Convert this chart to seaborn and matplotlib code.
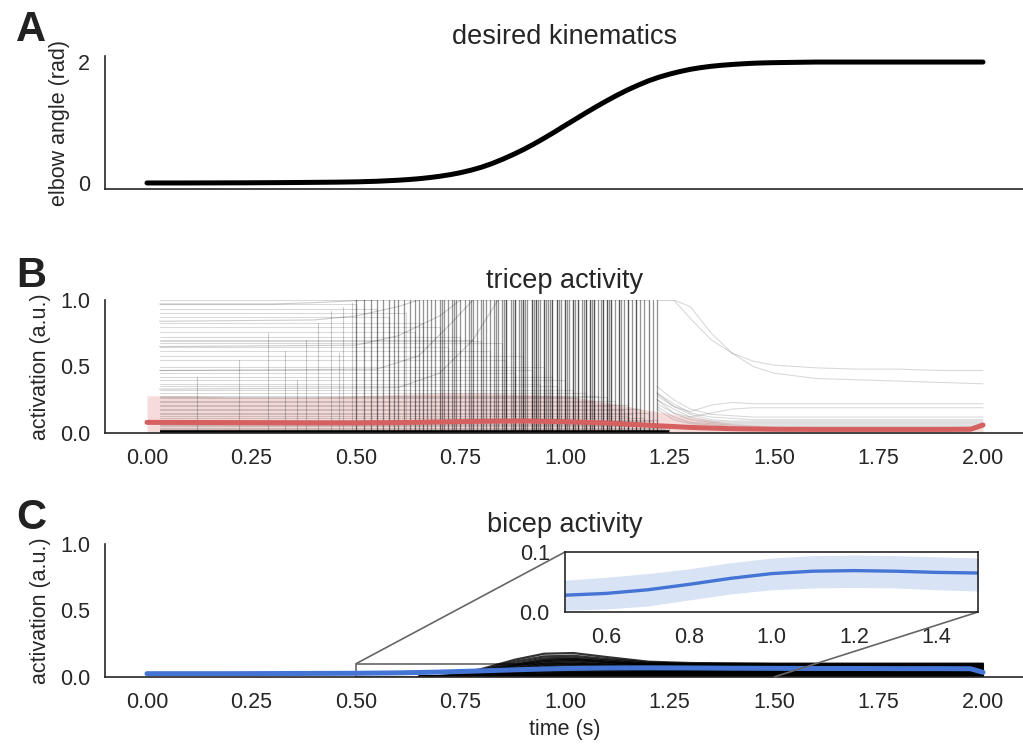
import numpy as np
import pandas as pd
import matplotlib
matplotlib.use("Agg")
import matplotlib.pyplot as plt
import seaborn as sns
from mpl_toolkits.axes_grid1.inset_locator import mark_inset

sns.set_theme(style="white")
plt.rcParams["font.family"] = ["Liberation Sans", "DejaVu Sans"]
TXT = "#262626"

# ---------------- desired kinematics ----------------
kin_t = [0.00, 0.05, 0.10, 0.15, 0.20, 0.25, 0.30, 0.35, 0.40, 0.45, 0.50, 0.55,
         0.600, 0.625, 0.650, 0.675, 0.700, 0.725, 0.750, 0.775, 0.800, 0.825,
         0.850, 0.875, 0.900, 0.925, 0.950, 0.975, 1.000, 1.025, 1.050, 1.075,
         1.100, 1.125, 1.150, 1.175, 1.200, 1.225, 1.250, 1.275, 1.300, 1.325,
         1.350, 1.375, 1.400, 1.425, 1.450, 1.475, 1.500,
         1.55, 1.60, 1.65, 1.70, 1.75, 1.80, 1.85, 1.90, 1.95, 2.00]
kin_angle = [0.000, 0.000, 0.000, 0.001, 0.002, 0.003, 0.005, 0.007, 0.010, 0.013, 0.018, 0.028,
             0.045, 0.056, 0.070, 0.088, 0.110, 0.137, 0.170, 0.211, 0.260, 0.320,
             0.390, 0.467, 0.550, 0.642, 0.740, 0.843, 0.950, 1.055, 1.160, 1.262,
             1.360, 1.453, 1.540, 1.618, 1.690, 1.750, 1.800, 1.843, 1.880, 1.908,
             1.930, 1.947, 1.960, 1.971, 1.980, 1.986, 1.990,
             1.995, 2.000, 2.000, 2.000, 2.000, 2.000, 2.000, 2.000, 2.000, 2.000]

# ---------------- tricep units ----------------
tri_start = 0.03
# sustained level of each unit and the time it switches off
tri_hold_levels = [1.00, 0.97, 0.93, 0.90, 0.87, 0.83, 0.80, 0.76, 0.72, 0.70,
                   0.69, 0.68, 0.65, 0.62, 0.58, 0.55, 0.50, 0.47, 0.45, 0.42,
                   0.40, 0.37, 0.35, 0.32, 0.30, 0.28, 0.27, 0.26, 0.24, 0.23,
                   0.21, 0.20, 0.18, 0.17, 0.15, 0.14, 0.13, 0.11, 0.10, 0.09,
                   0.08, 0.07, 0.06, 0.05, 0.04, 0.03, 0.02, 0.01, 0.00, 0.00,
                   0.00, 0.00, 0.00, 0.00]
tri_hold_ends = [1.20, 0.50, 0.55, 0.62, 0.58, 0.66, 0.70, 0.64, 0.75, 0.78,
                 0.80, 0.85, 0.72, 0.82, 0.90, 0.86, 0.95, 0.92, 0.88, 0.97,
                 1.00, 0.94, 0.98, 1.02, 1.05, 1.08, 1.10, 1.03, 1.12, 1.07,
                 1.15, 1.11, 1.18, 1.14, 1.20, 1.16, 1.15, 1.19, 1.22, 1.21,
                 1.18, 1.23, 1.25, 1.22, 1.25, 1.24, 1.25, 1.25, 1.25, 1.25,
                 1.25, 1.25, 1.25, 1.25]
# early partial bursts (time, peak)
tri_early_times = [0.12, 0.22, 0.29, 0.33, 0.36, 0.38, 0.41, 0.44, 0.46, 0.47, 0.49]
tri_early_peaks = [0.42, 0.55, 0.75, 0.62, 0.40, 0.70, 0.83, 0.92, 0.60, 0.95, 0.98]
# saturating bursts during the movement
tri_burst_times = [0.50, 0.52, 0.535, 0.55, 0.565, 0.58, 0.59, 0.60, 0.615, 0.63,
                   0.64, 0.65, 0.66, 0.67, 0.68, 0.69, 0.70, 0.705, 0.71, 0.72,
                   0.73, 0.735, 0.74, 0.75, 0.76, 0.77, 0.775, 0.78, 0.79, 0.80,
                   0.805, 0.81, 0.82, 0.83, 0.835, 0.84, 0.85, 0.855, 0.86, 0.87,
                   0.875, 0.88, 0.89, 0.895, 0.90, 0.905, 0.91, 0.92, 0.925, 0.93,
                   0.935, 0.94, 0.95, 0.955, 0.96, 0.965, 0.97, 0.98, 0.985, 0.99,
                   1.00, 1.005, 1.01, 1.02, 1.025, 1.03, 1.04, 1.045, 1.05, 1.06,
                   1.065, 1.07, 1.08, 1.085, 1.09, 1.10, 1.105, 1.11, 1.12, 1.13,
                   1.135, 1.14, 1.15, 1.16, 1.17, 1.18, 1.19, 1.20, 1.21, 1.22,
                   0.86, 0.88, 0.90, 0.92, 0.95, 0.98, 1.00, 1.03, 1.05, 1.07,
                   1.09, 1.11, 1.13, 1.15, 1.17, 0.93, 0.97, 1.02, 1.06, 1.10]
# units ramping up to saturation
tri_ramp_t = [[0.03, 0.30, 0.40, 0.50, 0.55],
              [0.03, 0.40, 0.50, 0.60, 0.65],
              [0.03, 0.50, 0.60, 0.70, 0.75],
              [0.03, 0.55, 0.65, 0.72, 0.78],
              [0.03, 0.60, 0.70, 0.78, 0.84]]
tri_ramp_y = [[0.97, 0.97, 0.98, 0.995, 1.00],
              [0.84, 0.85, 0.88, 0.95, 1.00],
              [0.65, 0.66, 0.73, 0.88, 1.00],
              [0.47, 0.48, 0.58, 0.80, 1.00],
              [0.33, 0.34, 0.45, 0.70, 1.00]]
# units still active after the movement
tri_tail_t = [1.22, 1.26, 1.30, 1.35, 1.40, 1.45, 1.50, 1.60, 1.70, 1.80, 1.90, 2.00]
tri_tail_y = [[1.00, 1.00, 0.86, 0.70, 0.60, 0.54, 0.51, 0.49, 0.48, 0.48, 0.47, 0.47],
              [1.00, 1.00, 0.95, 0.75, 0.60, 0.50, 0.45, 0.41, 0.40, 0.39, 0.38, 0.37],
              [0.30, 0.20, 0.16, 0.21, 0.23, 0.22, 0.22, 0.22, 0.22, 0.22, 0.22, 0.22],
              [0.25, 0.15, 0.12, 0.15, 0.18, 0.19, 0.19, 0.19, 0.19, 0.19, 0.19, 0.19],
              [0.35, 0.25, 0.18, 0.14, 0.13, 0.12, 0.12, 0.12, 0.12, 0.12, 0.12, 0.12],
              [0.30, 0.22, 0.15, 0.12, 0.11, 0.10, 0.10, 0.10, 0.10, 0.10, 0.10, 0.10],
              [0.28, 0.20, 0.14, 0.10, 0.09, 0.09, 0.09, 0.09, 0.09, 0.09, 0.09, 0.09],
              [0.25, 0.18, 0.12, 0.09, 0.08, 0.08, 0.08, 0.08, 0.08, 0.08, 0.08, 0.08],
              [0.22, 0.15, 0.10, 0.08, 0.07, 0.07, 0.07, 0.07, 0.07, 0.07, 0.07, 0.07],
              [0.20, 0.12, 0.08, 0.07, 0.06, 0.06, 0.06, 0.06, 0.06, 0.06, 0.06, 0.06],
              [0.18, 0.10, 0.07, 0.06, 0.05, 0.05, 0.05, 0.05, 0.05, 0.05, 0.05, 0.05]]

tri_mean_t = [0.0, 0.1, 0.2, 0.3, 0.4, 0.5, 0.6, 0.7, 0.8, 0.9, 1.0,
              1.1, 1.2, 1.3, 1.4, 1.5, 1.6, 1.7, 1.8, 1.9, 1.97, 2.0]
tri_mean = [0.080, 0.079, 0.078, 0.077, 0.076, 0.076, 0.078, 0.083, 0.088, 0.090, 0.085,
            0.075, 0.058, 0.042, 0.032, 0.028, 0.027, 0.027, 0.027, 0.027, 0.028, 0.060]
tri_hi = [0.28, 0.28, 0.27, 0.27, 0.27, 0.28, 0.29, 0.30, 0.30, 0.29, 0.28,
          0.23, 0.17, 0.12, 0.07, 0.05, 0.05, 0.05, 0.05, 0.05, 0.05, 0.06]
tri_lo = [0.0] * len(tri_mean_t)

# ---------------- bicep units ----------------
bic_t = [0.65, 0.72, 0.80, 0.88, 0.95, 1.02, 1.10, 1.20, 1.30, 1.50, 1.75, 2.00]
bic_traces = [
    [0.00, 0.010, 0.060, 0.130, 0.175, 0.180, 0.150, 0.115, 0.105, 0.100, 0.100, 0.100],
    [0.00, 0.010, 0.050, 0.115, 0.155, 0.160, 0.135, 0.108, 0.100, 0.098, 0.098, 0.098],
    [0.00, 0.010, 0.045, 0.100, 0.140, 0.145, 0.125, 0.100, 0.094, 0.093, 0.093, 0.093],
    [0.00, 0.008, 0.040, 0.090, 0.128, 0.135, 0.115, 0.095, 0.090, 0.089, 0.089, 0.089],
    [0.00, 0.008, 0.035, 0.085, 0.120, 0.130, 0.112, 0.092, 0.086, 0.085, 0.085, 0.085],
    [0.00, 0.006, 0.030, 0.075, 0.110, 0.120, 0.102, 0.085, 0.080, 0.080, 0.080, 0.080],
    [0.00, 0.005, 0.028, 0.065, 0.100, 0.110, 0.092, 0.078, 0.075, 0.075, 0.075, 0.075],
    [0.00, 0.004, 0.022, 0.058, 0.090, 0.100, 0.085, 0.072, 0.070, 0.070, 0.070, 0.070],
    [0.00, 0.003, 0.020, 0.050, 0.080, 0.090, 0.080, 0.067, 0.065, 0.065, 0.065, 0.065],
    [0.00, 0.002, 0.017, 0.042, 0.070, 0.080, 0.070, 0.062, 0.060, 0.060, 0.060, 0.060],
    [0.00, 0.002, 0.012, 0.038, 0.060, 0.070, 0.065, 0.057, 0.055, 0.055, 0.055, 0.055],
    [0.00, 0.001, 0.010, 0.030, 0.050, 0.060, 0.055, 0.050, 0.050, 0.050, 0.050, 0.050],
    [0.00, 0.001, 0.010, 0.028, 0.045, 0.050, 0.050, 0.046, 0.045, 0.045, 0.045, 0.045],
    [0.00, 0.000, 0.008, 0.020, 0.035, 0.040, 0.040, 0.040, 0.040, 0.040, 0.040, 0.040],
    [0.00, 0.000, 0.006, 0.018, 0.030, 0.035, 0.035, 0.035, 0.035, 0.035, 0.035, 0.035],
    [0.00, 0.000, 0.004, 0.010, 0.020, 0.030, 0.030, 0.030, 0.030, 0.030, 0.030, 0.030],
    [0.00, 0.000, 0.002, 0.008, 0.015, 0.025, 0.025, 0.025, 0.025, 0.025, 0.025, 0.025],
    [0.00, 0.000, 0.002, 0.006, 0.012, 0.020, 0.020, 0.020, 0.020, 0.020, 0.020, 0.020],
    [0.00, 0.000, 0.001, 0.005, 0.010, 0.015, 0.015, 0.015, 0.015, 0.015, 0.015, 0.015],
    [0.00, 0.000, 0.001, 0.004, 0.008, 0.010, 0.010, 0.010, 0.010, 0.010, 0.010, 0.010],
    [0.00, 0.000, 0.000, 0.002, 0.005, 0.006, 0.006, 0.006, 0.006, 0.006, 0.006, 0.006],
    [0.00, 0.000, 0.000, 0.001, 0.002, 0.003, 0.003, 0.003, 0.003, 0.003, 0.003, 0.003],
]

bic_mean_t = [0.0, 0.1, 0.2, 0.3, 0.4, 0.5, 0.6, 0.7, 0.8, 0.9, 1.0,
              1.1, 1.2, 1.3, 1.4, 1.5, 1.6, 1.7, 1.8, 1.9, 1.97, 2.0]
bic_mean = [0.025, 0.025, 0.025, 0.026, 0.027, 0.028, 0.031, 0.037, 0.046, 0.056, 0.064,
            0.068, 0.069, 0.068, 0.066, 0.065, 0.064, 0.064, 0.063, 0.063, 0.062, 0.035]
bic_hi = [0.050, 0.050, 0.050, 0.051, 0.052, 0.053, 0.058, 0.064, 0.072, 0.082, 0.090,
          0.094, 0.095, 0.094, 0.092, 0.090, 0.090, 0.090, 0.090, 0.090, 0.090, 0.090]
bic_lo = [0.000, 0.000, 0.001, 0.002, 0.002, 0.003, 0.005, 0.010, 0.020, 0.030, 0.037,
          0.040, 0.041, 0.040, 0.037, 0.035, 0.035, 0.035, 0.035, 0.035, 0.035, 0.035]

x_ticks = [0.00, 0.25, 0.50, 0.75, 1.00, 1.25, 1.50, 1.75, 2.00]
inset_xticks = [0.6, 0.8, 1.0, 1.2, 1.4]

RED = "#d65f5f"
BLUE = "#4474d4"
W, H = 1023, 744

fig = plt.figure(figsize=(W / 100, H / 100), dpi=100)


def px_axes(left, top, right, bottom):
    return fig.add_axes([left / W, 1 - bottom / H, (right - left) / W, (bottom - top) / H])


axA = px_axes(105.2, 56, 1024.8, 189)
axB = px_axes(105.2, 300, 1024.8, 433)
axC = px_axes(105.2, 544, 1024.8, 677)

for ax in (axA, axB, axC):
    ax.set_xlim(-0.1, 2.1)
    sns.despine(ax=ax)
    for s in ("left", "bottom"):
        ax.spines[s].set_color(TXT)
        ax.spines[s].set_linewidth(1.2)
    ax.tick_params(length=0, pad=11, labelsize=15.5, colors=TXT)

# panel A
sns.lineplot(x=kin_t, y=kin_angle, color="black", lw=3.6, ax=axA)
axA.set_ylim(-0.1, 2.1)
axA.set_yticks([0, 2])
axA.set_xticks([])
axA.set_title("desired kinematics", fontsize=19.5, color=TXT, pad=9)
axA.set_ylabel("elbow angle (rad)", fontsize=15.5, color=TXT)
axA.yaxis.set_label_coords(-0.038, 0.5)

# panel B
unit_kw = dict(color="black")
for lvl, end in zip(tri_hold_levels, tri_hold_ends):
    axB.plot([tri_start, end, end], [lvl, lvl, 0.0], alpha=0.15, lw=0.8, **unit_kw)
for t, pk in zip(tri_early_times, tri_early_peaks):
    axB.plot([t, t], [0.0, pk], alpha=0.2, lw=0.8, **unit_kw)
for t in tri_burst_times:
    axB.plot([t, t], [0.0, 1.0], alpha=0.42, lw=0.95, **unit_kw)
for tt, yy in zip(tri_ramp_t, tri_ramp_y):
    axB.plot(tt, yy, alpha=0.2, lw=0.8, **unit_kw)
for yy in tri_tail_y:
    axB.plot(tri_tail_t, yy, alpha=0.15, lw=0.8, **unit_kw)
axB.plot([tri_start, 1.25], [0, 0], color="black", lw=4, solid_capstyle="butt")
axB.fill_between(tri_mean_t, tri_lo, tri_hi, color=RED, alpha=0.22, lw=0)
sns.lineplot(x=tri_mean_t, y=tri_mean, color=RED, lw=3.6, ax=axB)
axB.set_ylim(0, 1)
axB.set_yticks([0.0, 0.5, 1.0])
axB.set_xticks(x_ticks)
axB.set_xticklabels([f"{v:.2f}" for v in x_ticks])
axB.set_title("tricep activity", fontsize=19.5, color=TXT, pad=9)
axB.set_ylabel("activation (a.u.)", fontsize=15.5, color=TXT)
axB.yaxis.set_label_coords(-0.059, 0.5)

# panel C
for yy in bic_traces:
    axC.plot(bic_t, yy, color="black", lw=1.6, alpha=0.8)
sns.lineplot(x=bic_mean_t, y=bic_mean, color=BLUE, lw=3.6, ax=axC)
axC.set_ylim(0, 1)
axC.set_yticks([0.0, 0.5, 1.0])
axC.set_xticks(x_ticks)
axC.set_xticklabels([f"{v:.2f}" for v in x_ticks])
axC.set_title("bicep activity", fontsize=19.5, color=TXT, pad=9)
axC.set_ylabel("activation (a.u.)", fontsize=15.5, color=TXT)
axC.yaxis.set_label_coords(-0.059, 0.5)
axC.set_xlabel("time (s)", fontsize=15.5, color=TXT, labelpad=4)

# zoomed view of the bicep mean
axI = px_axes(565, 552, 978, 612)
axI.fill_between(bic_mean_t, bic_lo, bic_hi, color=BLUE, alpha=0.2, lw=0)
sns.lineplot(x=bic_mean_t, y=bic_mean, color=BLUE, lw=2.4, ax=axI)
axI.set_xlim(0.5, 1.5)
axI.set_ylim(0.0, 0.1)
axI.set_xticks(inset_xticks)
axI.set_yticks([0.0, 0.1])
axI.tick_params(length=0, pad=11, labelsize=15.5, colors=TXT)
for s in axI.spines.values():
    s.set_visible(True)
    s.set_color(TXT)
    s.set_linewidth(1.2)
mark_inset(axC, axI, loc1=2, loc2=4, fc="none", ec="0.4", lw=1.2)

# panel letters
for letter, y in (("A", 30), ("B", 276), ("C", 518)):
    fig.text(31 / W, 1 - y / H, letter, fontsize=30, fontweight="bold",
             color="#222222", ha="center", va="center")

fig.savefig("out.png", dpi=100)
